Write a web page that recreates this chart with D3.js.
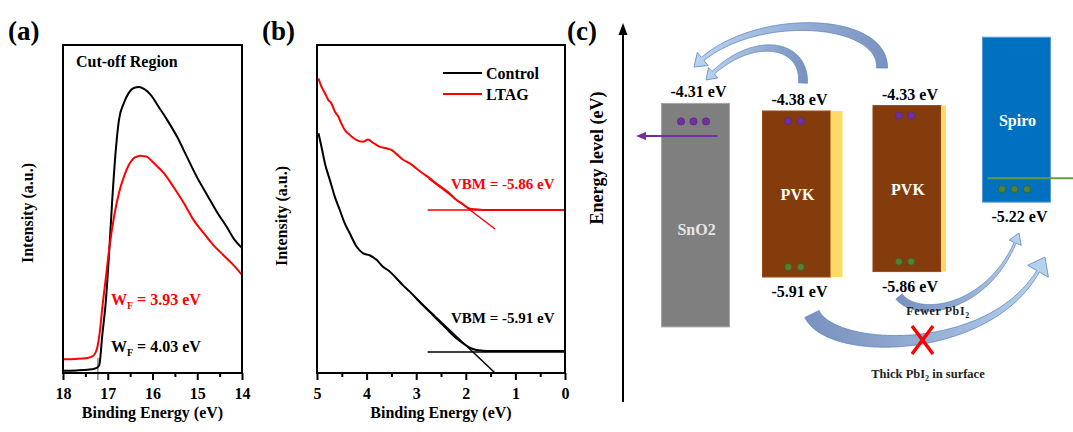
<!DOCTYPE html>
<html>
<head>
<meta charset="utf-8">
<title>UPS spectra and energy-level diagram</title>
<script src="https://cdn.jsdelivr.net/npm/d3@7/dist/d3.min.js"></script>
<style>
  html, body { margin: 0; padding: 0; background: #fff; }
  svg { display: block; }
  text { font-family: "Liberation Serif", "Times New Roman", Times, serif; font-weight: bold; }
</style>
</head>
<body>
<svg id="figure" width="1073" height="432"></svg>
<script>
// ---------- (a) secondary-electron cut-off region ----------
const cutoffControlEnergy = [18.0, 17.7, 17.45, 17.3, 17.24, 17.19, 17.12, 17.04, 16.97, 16.90, 16.82, 16.75, 16.64, 16.53, 16.42, 16.30, 16.19, 16.04, 15.86, 15.67, 15.45, 15.23, 15.01, 14.78, 14.56, 14.34, 14.16, 14.0];
const cutoffControlIntensity = [0.7, 0.8, 1.0, 1.3, 1.6, 2.4, 11.8, 22.3, 36.6, 52.7, 68.0, 77.1, 82.3, 85.4, 86.9, 87.2, 86.6, 84.8, 81.1, 77.1, 72.0, 65.9, 59.8, 54.3, 49.1, 44.5, 40.5, 38.1];
const cutoffLtagEnergy = [18.0, 17.7, 17.45, 17.33, 17.28, 17.23, 17.18, 17.12, 17.04, 16.97, 16.86, 16.75, 16.64, 16.53, 16.42, 16.34, 16.27, 16.20, 16.12, 15.97, 15.75, 15.53, 15.30, 15.08, 14.86, 14.64, 14.42, 14.19, 14.0];
const cutoffLtagIntensity = [4.2, 4.3, 4.6, 5.2, 6.0, 8.0, 12.2, 20.1, 29.3, 37.5, 47.6, 54.9, 59.8, 63.4, 65.5, 66.0, 66.2, 66.1, 65.9, 64.0, 61.0, 56.7, 51.8, 46.6, 42.7, 39.0, 36.0, 32.9, 29.9];
const cutoffMarkerEnergy = 17.22;
const cutoffTicks = [18, 17, 16, 15, 14];
const cutoffMinorTicks = [17.5, 16.5, 15.5, 14.5];
const workFunctionLtag = "3.93 eV";
const workFunctionControl = "4.03 eV";

// ---------- (b) valence-band edge ----------
const valenceControlEnergy = [4.97, 4.91, 4.84, 4.74, 4.64, 4.54, 4.44, 4.34, 4.20, 4.07, 3.94, 3.80, 3.67, 3.53, 3.40, 3.27, 3.13, 3.00, 2.87, 2.73, 2.60, 2.46, 2.33, 2.19, 2.06, 1.93, 1.79, 1.66, 1.50, 1.00, 0.50, 0.0];
const valenceControlIntensity = [73.1, 69.0, 63.9, 58.8, 53.7, 49.7, 45.6, 42.6, 38.5, 36.5, 35.9, 34.5, 32.4, 30.9, 28.9, 26.8, 24.8, 22.8, 20.7, 18.7, 16.7, 14.6, 12.6, 10.6, 9.1, 7.8, 7.0, 6.8, 6.7, 6.7, 6.7, 6.7];
const valenceLtagEnergy = [4.97, 4.91, 4.84, 4.77, 4.71, 4.64, 4.57, 4.51, 4.44, 4.34, 4.20, 4.07, 3.97, 3.87, 3.74, 3.60, 3.50, 3.40, 3.27, 3.13, 3.00, 2.87, 2.73, 2.60, 2.46, 2.33, 2.20, 2.06, 1.93, 1.79, 1.66, 1.0, 0.5, 0.0];
const valenceLtagIntensity = [89.8, 87.3, 85.3, 83.2, 82.2, 79.7, 78.2, 76.1, 74.1, 72.6, 71.0, 70.5, 71.2, 70.2, 69.0, 68.5, 68.0, 66.8, 65.1, 63.9, 62.4, 60.9, 59.4, 57.8, 56.3, 54.8, 52.9, 51.5, 50.2, 49.9, 49.7, 49.7, 49.7, 49.7];
const vbmControlBaseline = [[2.77, 6.4], [0, 6.4]];
const vbmControlTangent = [[3.0, 22.8], [1.41, 0.0]];
const vbmLtagBaseline = [[2.77, 49.7], [0, 49.7]];
const vbmLtagTangent = [[2.75, 59.3], [1.41, 43.9]];
const valenceTicks = [5, 4, 3, 2, 1, 0];
const valenceMinorTicks = [4.5, 3.5, 2.5, 1.5, 0.5];
const seriesNames = ["Control", "LTAG"];
const vbmControlText = "VBM = -5.91 eV";
const vbmLtagText = "VBM = -5.86 eV";

// ---------- (c) energy-level alignment ----------
const layerIds = ["SnO2", "PVK-control", "PVK-LTAG", "Spiro"];
const layerNames = ["SnO2", "PVK", "PVK", "Spiro"];
const layerTop = [-4.31, -4.38, -4.33, -3.70];
const layerBottom = [-6.37, -5.91, -5.86, -5.22];
const topLevelText = ["-4.31 eV", "-4.38 eV", "-4.33 eV", ""];
const bottomLevelText = ["", "-5.91 eV", "-5.86 eV", "-5.22 eV"];
const electronCount = [3, 2, 2, 0];
const holeCount = [0, 2, 2, 3];
const spiroLevel = -5.0;
const sno2Extraction = -4.61;

// ---------- styles ----------
const RED = "#ff0000";
const layerFill = ["#7f7f7f", "#843c0c", "#843c0c", "#0070c0"];
const layerEdge = ["#a6a6a6", "#9a4a14", "#9a4a14", "#5b9bd5"];
const surfaceStrip = [0, 12, 5, 0];   // PbI2-rich surface layer drawn beside the perovskite

const svg = d3.select("#figure");
svg.append("rect").attr("width", 1073).attr("height", 432).attr("fill", "#fff");
const defs = svg.append("defs");

// shared frame + bottom axis for the two spectra
function spectrumFrame(x, y, major, minor) {
  const g = svg.append("g");
  const [x0, x1] = x.range();
  const [yb, yt] = y.range();
  const ax = g.append("g").attr("transform", `translate(0,${yb})`)
    .call(d3.axisBottom(x).tickValues(major).tickFormat(d3.format("d")).tickSize(7).tickPadding(8));
  ax.select(".domain").remove();
  ax.selectAll("line").attr("stroke", "#000").attr("stroke-width", 2);
  ax.selectAll("text").attr("font-size", 16).attr("fill", "#000");
  const mx = g.append("g").attr("transform", `translate(0,${yb})`)
    .call(d3.axisBottom(x).tickValues(minor).tickFormat("").tickSize(4));
  mx.select(".domain").remove();
  mx.selectAll("line").attr("stroke", "#000").attr("stroke-width", 2);
  g.append("rect").attr("x", x0).attr("y", yt).attr("width", x1 - x0).attr("height", yb - yt)
    .attr("fill", "none").attr("stroke", "#000").attr("stroke-width", 2);
  g.append("text").attr("x", (x0 + x1) / 2).attr("y", 418).attr("text-anchor", "middle")
    .attr("font-size", 16).text("Binding Energy (eV)");
  return g;
}
function yTitle(xPos, yPos, label) {
  svg.append("text").attr("transform", `translate(${xPos},${yPos}) rotate(-90)`)
    .attr("text-anchor", "middle").attr("font-size", 16).text(label);
}
function panelTag(xPos, label) {
  svg.append("text").attr("x", xPos).attr("y", 40).attr("font-size", 27).text(label);
}
function zip(a, b) { return a.map((v, i) => [v, b[i]]); }

// ================= panel (a) =================
const xA = d3.scaleLinear().domain([18, 14]).range([63, 242]);
const yA = d3.scaleLinear().domain([0, 100]).range([373, 45]);
const lineA = d3.line().x(d => xA(d[0])).y(d => yA(d[1])).curve(d3.curveMonotoneX);

const gA = svg.append("g");
gA.append("line").attr("x1", xA(cutoffMarkerEnergy)).attr("x2", xA(cutoffMarkerEnergy))
  .attr("y1", yA(4.6)).attr("y2", yA(0) + 7).attr("stroke", "#555").attr("stroke-width", 1);
gA.append("path").datum(zip(cutoffControlEnergy, cutoffControlIntensity)).attr("d", lineA)
  .attr("fill", "none").attr("stroke", "#000").attr("stroke-width", 2);
gA.append("path").datum(zip(cutoffLtagEnergy, cutoffLtagIntensity)).attr("d", lineA)
  .attr("fill", "none").attr("stroke", RED).attr("stroke-width", 2);
spectrumFrame(xA, yA, cutoffTicks, cutoffMinorTicks);
gA.append("text").attr("x", 76).attr("y", 67).attr("font-size", 16).text("Cut-off Region");

function wfLabel(yPos, color, value) {
  const t = svg.append("text").attr("x", 111).attr("y", yPos).attr("font-size", 16).attr("fill", color);
  t.append("tspan").text("W");
  t.append("tspan").attr("font-size", 10).attr("dy", 4).text("F");
  t.append("tspan").attr("dy", -4).text(" = " + value);
}
wfLabel(305, RED, workFunctionLtag);
wfLabel(352, "#000", workFunctionControl);
yTitle(33, 213, "Intensity (a.u.)");
panelTag(8, "(a)");

// ================= panel (b) =================
const xB = d3.scaleLinear().domain([5, 0]).range([317, 565]);
const yB = d3.scaleLinear().domain([0, 100]).range([373, 45]);
const lineB = d3.line().x(d => xB(d[0])).y(d => yB(d[1])).curve(d3.curveMonotoneX);
const segB = d3.line().x(d => xB(d[0])).y(d => yB(d[1]));

const gB = svg.append("g");
gB.append("path").datum(zip(valenceLtagEnergy, valenceLtagIntensity)).attr("d", lineB)
  .attr("fill", "none").attr("stroke", RED).attr("stroke-width", 2);
gB.append("path").datum(zip(valenceControlEnergy, valenceControlIntensity)).attr("d", lineB)
  .attr("fill", "none").attr("stroke", "#000").attr("stroke-width", 2);
[[vbmLtagBaseline, RED], [vbmLtagTangent, RED], [vbmControlBaseline, "#000"], [vbmControlTangent, "#000"]]
  .forEach(([seg, c]) => gB.append("path").attr("d", segB(seg)).attr("fill", "none")
    .attr("stroke", c).attr("stroke-width", 1.5));
spectrumFrame(xB, yB, valenceTicks, valenceMinorTicks);
gB.append("text").attr("x", 451).attr("y", 189).attr("font-size", 15).attr("fill", RED).text(vbmLtagText);
gB.append("text").attr("x", 451).attr("y", 323).attr("font-size", 15).attr("fill", "#000").text(vbmControlText);

// legend
const legend = svg.append("g");
seriesNames.forEach((name, i) => {
  const yy = 73 + i * 21;
  legend.append("line").attr("x1", 443).attr("x2", 482).attr("y1", yy).attr("y2", yy)
    .attr("stroke", i === 0 ? "#000" : RED).attr("stroke-width", 2);
  legend.append("text").attr("x", 486).attr("y", yy + 5.5).attr("font-size", 16).text(name);
});
yTitle(287, 216, "Intensity (a.u.)");
panelTag(262, "(b)");

// ================= panel (c) =================
const xC = d3.scaleBand().domain(layerIds).range([661.5, 1050.5]).paddingInner(0.364);
const yE = d3.scaleLinear().domain([-4.38, -5.91]).range([111, 277]);
const gC = svg.append("g");

// energy axis
gC.append("line").attr("x1", 623).attr("x2", 623).attr("y1", 402).attr("y2", 32)
  .attr("stroke", "#000").attr("stroke-width", 2);
gC.append("path").attr("d", "M618.5,35 L623,23 L627.5,35 Z").attr("fill", "#000");
svg.append("text").attr("transform", "translate(603,158) rotate(-90)")
  .attr("text-anchor", "middle").attr("font-size", 18).text("Energy level (eV)");
panelTag(567, "(c)");

const bw = xC.bandwidth();
const bottomGap = 20;
layerIds.forEach((id, i) => {
  const total = bw + surfaceStrip[i];
  const left = xC(id) + bw / 2 - total / 2;
  const yt = yE(layerTop[i]), yb = yE(layerBottom[i]);
  const cx = left + bw / 2;
  gC.append("rect").attr("x", left).attr("y", yt).attr("width", bw).attr("height", yb - yt)
    .attr("fill", layerFill[i]).attr("stroke", layerEdge[i]).attr("stroke-width", 1);
  if (surfaceStrip[i] > 0) {
    gC.append("rect").attr("x", left + bw).attr("y", yt).attr("width", surfaceStrip[i])
      .attr("height", yb - yt).attr("fill", "#ffd966");
  }
  // layer name
  const nameY = (yt + yb) / 2 + 6 + (i === 0 ? 14 : 0);
  gC.append("text").attr("x", cx + 1).attr("y", nameY).attr("text-anchor", "middle")
    .attr("font-size", 16).attr("fill", i === 0 ? "#e6e6e6" : "#fff").text(layerNames[i]);
  // level values
  if (topLevelText[i]) gC.append("text").attr("x", cx + 3).attr("y", yt - 6)
    .attr("text-anchor", "middle").attr("font-size", 16).text(topLevelText[i]);
  if (bottomLevelText[i]) gC.append("text").attr("x", cx + 3).attr("y", yb + bottomGap)
    .attr("text-anchor", "middle").attr("font-size", 16).text(bottomLevelText[i]);
  // electrons near the conduction edge, holes near the valence edge
  const sp = 12.5;
  d3.range(electronCount[i]).forEach(k => {
    gC.append("circle").attr("cx", cx - 2 + (k - (electronCount[i] - 1) / 2) * sp)
      .attr("cy", yt + (i === 0 ? 18 : 10)).attr("r", 3.6)
      .attr("fill", "#7030a0").attr("stroke", "#5a2a85").attr("stroke-width", 0.8);
  });
  d3.range(holeCount[i]).forEach(k => {
    gC.append("circle").attr("cx", cx - 2 + (k - (holeCount[i] - 1) / 2) * sp)
      .attr("cy", yb - (i === 3 ? 13 : 10)).attr("r", 3.6)
      .attr("fill", "#548235").attr("stroke", "#3b5e25").attr("stroke-width", 0.8);
  });
});

// Spiro level line running off to the right
const spiroLeft = xC("Spiro");
gC.append("line").attr("x1", spiroLeft + 5).attr("x2", 1073)
  .attr("y1", yE(spiroLevel)).attr("y2", yE(spiroLevel))
  .attr("stroke", "#6a9a45").attr("stroke-width", 2);

// electron extraction out of SnO2
const exY = yE(sno2Extraction);
gC.append("line").attr("x1", xC("SnO2") + bw - 12).attr("x2", 645).attr("y1", exY).attr("y2", exY)
  .attr("stroke", "#7030a0").attr("stroke-width", 2);
gC.append("path").attr("d", `M636,${exY} L646,${exY - 4} L646,${exY + 4} Z`).attr("fill", "#7030a0");

// curved block arrows for charge transfer
function arrowPath(p0, c1, c2, p3, wTail, wNeck, headLen, headW) {
  const B = t => {
    const u = 1 - t;
    return [u * u * u * p0[0] + 3 * u * u * t * c1[0] + 3 * u * t * t * c2[0] + t * t * t * p3[0],
            u * u * u * p0[1] + 3 * u * u * t * c1[1] + 3 * u * t * t * c2[1] + t * t * t * p3[1]];
  };
  const N = 160;
  const pts = d3.range(N + 1).map(i => B(i / N));
  const cum = [0];
  for (let i = 1; i <= N; i++) cum.push(cum[i - 1] + Math.hypot(pts[i][0] - pts[i - 1][0], pts[i][1] - pts[i - 1][1]));
  const L = cum[N];
  const k = cum.findIndex(s => s >= L - headLen);
  const normal = i => {
    const a = pts[Math.max(0, i - 1)], b = pts[Math.min(N, i + 1)];
    const dx = b[0] - a[0], dy = b[1] - a[1], l = Math.hypot(dx, dy);
    return [-dy / l, dx / l];
  };
  const left = [], right = [];
  for (let i = 0; i <= k; i++) {
    const w = (wTail + (wNeck - wTail) * cum[i] / cum[k]) / 2;
    const n = normal(i);
    left.push([pts[i][0] + n[0] * w, pts[i][1] + n[1] * w]);
    right.push([pts[i][0] - n[0] * w, pts[i][1] - n[1] * w]);
  }
  const nk = normal(k), base = pts[k];
  const wingL = [base[0] + nk[0] * headW / 2, base[1] + nk[1] * headW / 2];
  const wingR = [base[0] - nk[0] * headW / 2, base[1] - nk[1] * headW / 2];
  const poly = [...left, wingL, p3, wingR, ...right.reverse()];
  return "M" + poly.map(p => p[0].toFixed(1) + "," + p[1].toFixed(1)).join("L") + "Z";
}
// the hole-transfer arrow from the LTAG film starts just under its VB label
const ltagVbLabelY = yE(-5.86) + bottomGap;
const transferArrows = [
  { id: "ltag-etl",  p: [[882, 68], [884, 16], [748, 10], [694, 67]], w: [11, 4, 13, 17] },
  { id: "ctrl-etl",  p: [[803, 83], [805, 40], [748, 34], [706, 80]], w: [9, 3.5, 11, 14] },
  { id: "ltag-htl",  p: [[899, ltagVbLabelY + 5], [918, ltagVbLabelY + 29], [992, ltagVbLabelY + 18], [1019, 233]], w: [8, 2, 11, 13] },
  { id: "ctrl-htl",  p: [[812, 314], [832, 357], [1005, 357], [1045, 257]], w: [16, 3, 17, 24] }
];
transferArrows.forEach(a => {
  const [p0, c1, c2, p3] = a.p;
  const grad = defs.append("linearGradient").attr("id", "grad-" + a.id)
    .attr("gradientUnits", "userSpaceOnUse")
    .attr("x1", p0[0]).attr("y1", p0[1]).attr("x2", p3[0]).attr("y2", p3[1]);
  grad.append("stop").attr("offset", 0).attr("stop-color", "#7b93c0");
  grad.append("stop").attr("offset", 1).attr("stop-color", "#b9d2ee");
  gC.append("path").attr("d", arrowPath(p0, c1, c2, p3, ...a.w))
    .attr("fill", `url(#grad-${a.id})`).attr("stroke", "#5b86c2").attr("stroke-width", 0.8);
});

// blocked transfer mark
gC.append("path").attr("d", "M912,326 L933,354 M933,326 L912,354")
  .attr("stroke", RED).attr("stroke-width", 3.5).attr("fill", "none");

function pbLabel(xc, yy, pre, post, size, spacing) {
  const t = gC.append("text").attr("x", xc).attr("y", yy).attr("text-anchor", "middle")
    .attr("font-size", size).attr("fill", "#222").attr("letter-spacing", spacing);
  t.append("tspan").text(pre + "PbI");
  t.append("tspan").attr("font-size", size * 0.65).attr("dy", 3).text("2");
  if (post) t.append("tspan").attr("dy", -3).text(post);
}
pbLabel(938, ltagVbLabelY + 23, "Fewer ", "", 12, 0.6);
pbLabel(928, 378, "Thick ", " in surface", 12.5, 0);
</script>
</body>
</html>
